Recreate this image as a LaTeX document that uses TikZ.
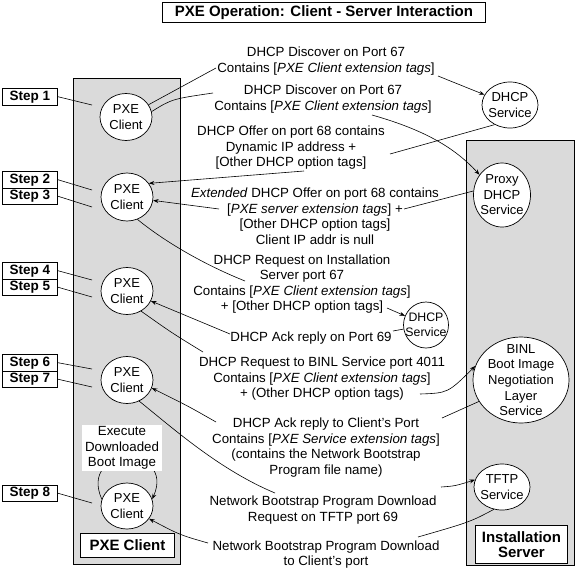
\documentclass[tikz,border=0pt]{standalone}
\usepackage{fontspec}
\setmainfont{Liberation Sans}
\usetikzlibrary{shapes.geometric,arrows.meta}
\definecolor{bggray}{RGB}{218,218,218}
\begin{document}
\begin{tikzpicture}[x=1pt,y=-1pt,
  txt/.style={font=\fontsize{13.3}{15.5}\selectfont, align=center, inner sep=0pt},
  ctxt/.style={font=\fontsize{13}{15.5}\selectfont, align=center, inner sep=0pt},
  circ/.style={draw, ellipse, fill=white, line width=0.7pt, inner sep=0pt},
  arr/.style={-{Stealth[length=5.5pt,width=4pt]}, line width=0.6pt},
  conn/.style={line width=0.6pt},
  panel/.style={draw, fill=bggray, line width=0.9pt, anchor=north west, inner sep=0pt},
  stepbox/.style={draw, fill=white, line width=0.9pt, minimum width=55pt, minimum height=16.5pt,
     inner sep=0pt, anchor=north west, font=\fontsize{13.5}{15}\selectfont\bfseries},
  tagbox/.style={draw, fill=white, line width=0.9pt, inner sep=0pt, anchor=north west,
     align=center, font=\fontsize{15}{15}\selectfont\bfseries}]
\fill[white] (0,0) rectangle (575,571);
\useasboundingbox (0,0) rectangle (575,571);

% title
\node[tagbox, minimum width=323pt, minimum height=20pt] (title) at (162,2)
  {PXE Operation: Client - Server Interaction};

% panels
\node[panel, minimum width=107pt, minimum height=486pt] (lbox) at (73,78) {};
\node[panel, minimum width=108pt, minimum height=425pt] (rbox) at (466,140) {};
\node[tagbox, minimum width=94pt, minimum height=24pt] (lname) at (80,533) {PXE Client};
\node[tagbox, minimum width=92pt, minimum height=38pt] (rname) at (475,525) {Installation\\Server};

% steps
\node[stepbox] (s1) at (2,88) {Step 1};
\node[stepbox] (s2) at (2,171) {Step 2};
\node[stepbox] (s3) at (2,187.5) {Step 3};
\node[stepbox] (s4) at (2,262) {Step 4};
\node[stepbox] (s5) at (2,278.5) {Step 5};
\node[stepbox] (s6) at (2,354) {Step 6};
\node[stepbox] (s7) at (2,370.5) {Step 7};
\node[stepbox] (s8) at (2,484.5) {Step 8};
\coordinate (p1) at (92,105);
\coordinate (p2) at (92,190);
\coordinate (p3) at (92,207);
\coordinate (p4) at (92,280);
\coordinate (p5) at (92,297);
\coordinate (p6) at (92,369);
\coordinate (p7) at (92,387);
\coordinate (p8) at (92,503);
\foreach \i in {1,...,8} {\draw[conn] (s\i.east) -- (p\i);}

% circles
\node[circ, minimum width=52pt, minimum height=47pt] (c1) at (126,117) {};
\node[circ, minimum width=52pt, minimum height=48pt] (c2) at (127,197) {};
\node[circ, minimum width=52pt, minimum height=47pt] (c3) at (127,291) {};
\node[circ, minimum width=52pt, minimum height=47pt] (c4) at (127,380) {};
\node[circ, minimum width=52pt, minimum height=46pt] (c5) at (127,506) {};
\node[circ, minimum width=56pt, minimum height=46pt] (d1) at (510,105) {};
\node[circ, minimum width=57pt, minimum height=64pt] (px) at (502,195) {};
\node[circ, minimum width=45pt, minimum height=46pt] (d2) at (426,325) {};
\node[circ, minimum width=96pt, minimum height=86pt] (binl) at (521,380) {};
\node[circ, minimum width=56pt, minimum height=46pt] (tftp) at (502,487) {};

\node[ctxt] (c1t) at (c1) {PXE\\Client};
\node[ctxt] (c2t) at (c2) {PXE\\Client};
\node[ctxt] (c3t) at (c3) {PXE\\Client};
\node[ctxt] (c4t) at (c4) {PXE\\Client};
\node[ctxt] (c5t) at (c5) {PXE\\Client};
\node[ctxt] (d1t) at (d1) {DHCP\\Service};
\node[ctxt] (pxt) at (px) {Proxy\\DHCP\\Service};
\node[ctxt, font=\fontsize{12.3}{14.5}\selectfont] (d2t) at (d2) {DHCP\\Service};
\node[ctxt, font=\fontsize{13}{15.7}\selectfont] (binlt) at (binl) {BINL\\Boot Image\\Negotiation\\Layer\\Service};
\node[ctxt] (tftpt) at (tftp) {TFTP\\Service};

% message texts
\node[txt] (m1) at (326,61) {DHCP Discover on Port 67\\Contains [\textit{PXE Client extension tags}]};
\node[txt] (m2) at (323,99) {DHCP Discover on Port 67\\Contains [\textit{PXE Client extension tags}]};
\node[txt] (m3) at (291,148) {DHCP Offer on port 68 contains\\Dynamic IP address +\\{[}Other DHCP option tags]};
\node[txt] (m4) at (315,216) {\textit{Extended} DHCP Offer on port 68 contains\\{[}\textit{PXE server extension tags}] +\\{[}Other DHCP option tags]\\Client IP addr is null};
\node[txt] (m5) at (302,284) {DHCP Request on Installation\\Server port 67\\Contains [\textit{PXE Client extension tags}]\\+ [Other DHCP option tags]};
\node[txt] (m6) at (311,338) {DHCP Ack reply on Port 69};
\node[txt] (m7) at (322,379) {DHCP Request to BINL Service port 4011\\Contains [\textit{PXE Client extension tags}]\\+ (Other DHCP option tags)};
\node[txt] (m8) at (326,447.5) {DHCP Ack reply to Client's Port\\Contains [\textit{PXE Service extension tags}]\\(contains the Network Bootstrap\\Program file name)};
\node[txt] (m9) at (323,510) {Network Bootstrap Program Download\\Request on TFTP port 69};
\node[txt] (m10) at (326,554.5) {Network Bootstrap Program Download\\to Client's port};

% connector end points
\coordinate (a1) at (216,68);
\coordinate (a2) at (438,76);
\coordinate (b1) at (213,93);
\coordinate (b2) at (372,115);
\coordinate (o1) at (390,154);
\coordinate (o2) at (304,171);
\coordinate (e1) at (404,209);
\coordinate (e2) at (219,209);
\coordinate (f1) at (245,281);
\coordinate (f2) at (387,308);
\coordinate (g1) at (393,331);
\coordinate (g2) at (230,334);
\coordinate (h1) at (203,352);
\coordinate (h2) at (420,394);
\coordinate (i1) at (442,418);
\coordinate (i2) at (216,422);
\coordinate (j1) at (275,493);
\coordinate (j2) at (441,487);
\coordinate (k1) at (418,537);
\coordinate (k2) at (208,543);

% connectors
\draw[conn] (c1) -- (a1);
\draw[arr] (a2) -- (d1);
\draw[conn] (c1.12) .. controls (172,99) .. (b1);
\draw[arr] (b2) .. controls (425,130) and (455,148) .. (px.138);
\draw[conn] (d1.232) -- (o1);
\draw[arr] (o2) -- (c2.32);
\draw[conn] (px.172) -- (e1);
\draw[arr] (e2) -- (c2);
\draw[conn] (c2.295) .. controls (165,242) and (205,265) .. (f1);
\draw[arr] (f2) -- (d2);
\draw[conn] (d2) -- (g1);
\draw[arr] (g2) -- (c3);
\draw[conn] (c3.305) .. controls (172,333) .. (h1);
\draw[arr] (h2) .. controls (448,393) .. (binl.163);
\draw[conn] (binl.207) -- (i1);
\draw[arr] (i2) .. controls (188,406) .. (c4.-18);
\draw[conn] (c4.-60) .. controls (175,430) and (220,470) .. (j1);
\draw[arr] (j2) .. controls (455,486) .. (tftp.165);
\draw[conn] (tftp.250) .. controls (470,522) .. (k1);
\draw[arr] (k2) .. controls (180,535) .. (c5.-30);

% self loop
\draw[arr] (c5.165) .. controls (78,445) and (176,445) .. (c5.15);
\node[txt, fill=white, inner xsep=3pt, inner ysep=2pt] (exe) at (122,448)
  {Execute\\Downloaded\\Boot Image};
\end{tikzpicture}
\end{document}
